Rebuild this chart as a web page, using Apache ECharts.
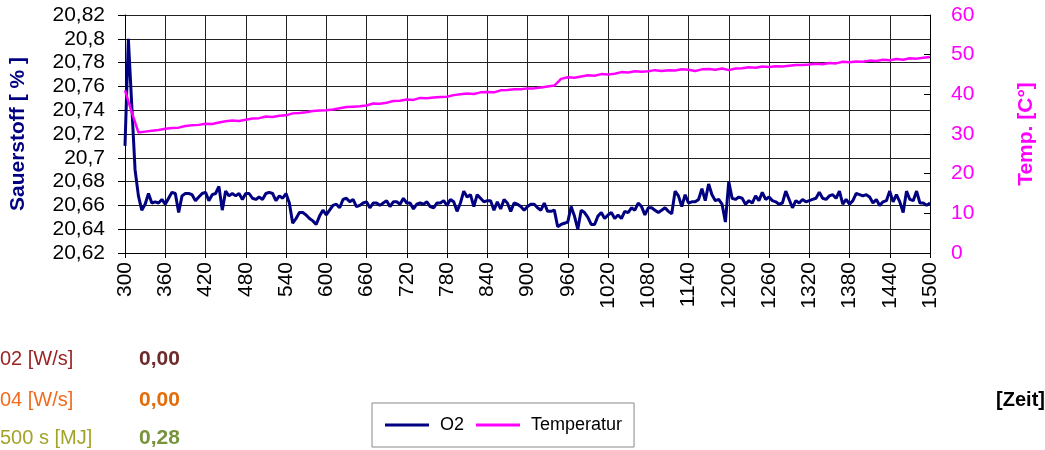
<!DOCTYPE html>
<html>
<head>
<meta charset="utf-8">
<script src="https://cdn.jsdelivr.net/npm/echarts@6/dist/echarts.min.js"></script>
<style>
  html, body { margin: 0; padding: 0; background: #fff; }
  #chart { width: 1045px; height: 450px; }
</style>
</head>
<body>
<div id="chart"></div>
<script>
// Zeitachse [s]
const timeMin = 300;
const timeMax = 1500;
const timeInterval = 60;

// Sauerstoff [%], alle 5 s ab 300 s
const o2Step = 5;
const o2Values = [
  20.71, 20.80, 20.745, 20.69, 20.668, 20.656, 20.661, 20.670, 20.662, 20.663,
  20.662, 20.665, 20.661, 20.666, 20.671, 20.670, 20.654, 20.668, 20.670, 20.670,
  20.669, 20.664, 20.667, 20.670, 20.671, 20.664, 20.669, 20.670, 20.676, 20.656,
  20.672, 20.668, 20.670, 20.668, 20.670, 20.665, 20.670, 20.670, 20.666, 20.665,
  20.667, 20.665, 20.670, 20.671, 20.670, 20.664, 20.668, 20.666, 20.670, 20.662,
  20.645, 20.649, 20.654, 20.654, 20.652, 20.649, 20.647, 20.644, 20.651, 20.656,
  20.652, 20.656, 20.660, 20.661, 20.658, 20.665, 20.666, 20.663, 20.665, 20.659,
  20.660, 20.662, 20.663, 20.658, 20.662, 20.662, 20.660, 20.662, 20.664, 20.659,
  20.663, 20.663, 20.661, 20.666, 20.662, 20.662, 20.657, 20.661, 20.662, 20.661,
  20.663, 20.659, 20.658, 20.662, 20.662, 20.664, 20.660, 20.665, 20.663, 20.655,
  20.662, 20.672, 20.667, 20.669, 20.659, 20.669, 20.666, 20.663, 20.664, 20.664,
  20.656, 20.663, 20.657, 20.665, 20.662, 20.655, 20.662, 20.661, 20.659, 20.656,
  20.659, 20.661, 20.661, 20.658, 20.656, 20.662, 20.655, 20.655, 20.656, 20.642,
  20.644, 20.645, 20.646, 20.659, 20.651, 20.640, 20.656, 20.654, 20.650, 20.644,
  20.644, 20.651, 20.654, 20.649, 20.652, 20.654, 20.649, 20.652, 20.649, 20.655,
  20.654, 20.658, 20.656, 20.662, 20.659, 20.652, 20.658, 20.658, 20.656, 20.654,
  20.656, 20.658, 20.655, 20.653, 20.672, 20.668, 20.659, 20.669, 20.662, 20.663,
  20.663, 20.665, 20.674, 20.664, 20.678, 20.669, 20.664, 20.665, 20.661, 20.646,
  20.680, 20.666, 20.665, 20.667, 20.666, 20.661, 20.664, 20.662, 20.668, 20.664,
  20.671, 20.665, 20.667, 20.664, 20.663, 20.661, 20.662, 20.672, 20.665, 20.658,
  20.664, 20.662, 20.665, 20.663, 20.664, 20.665, 20.666, 20.671, 20.666, 20.665,
  20.668, 20.669, 20.666, 20.672, 20.661, 20.665, 20.661, 20.664, 20.670, 20.669,
  20.668, 20.669, 20.667, 20.662, 20.665, 20.660, 20.663, 20.664, 20.672, 20.663,
  20.669, 20.663, 20.654, 20.672, 20.665, 20.664, 20.672, 20.662, 20.662, 20.660,
  20.662
];

// Temperatur [°C], alle 10 s ab 300 s
const tempStep = 10;
const tempValues = [
  41.0, 35.5, 30.4, 30.6, 30.8, 31.0, 31.3, 31.5, 31.6, 32.0,
  32.2, 32.3, 32.6, 32.5, 32.9, 33.2, 33.4, 33.3, 33.6, 33.9,
  34.0, 34.4, 34.3, 34.6, 34.7, 35.2, 35.3, 35.5, 35.8, 35.9,
  36.0, 36.2, 36.5, 36.8, 36.9, 37.0, 37.2, 37.7, 37.6, 37.9,
  38.3, 38.4, 38.7, 38.6, 39.1, 39.0, 39.2, 39.3, 39.4, 39.8,
  40.0, 40.2, 40.1, 40.5, 40.6, 40.5, 41.0, 41.1, 41.3, 41.3,
  41.5, 41.5, 41.7, 42.0, 42.2, 43.9, 44.3, 44.2, 44.5, 44.8,
  44.7, 45.1, 45.0, 45.2, 45.6, 45.5, 45.8, 45.7, 45.8, 46.1,
  45.9, 46.1, 46.0, 46.3, 46.2, 45.9, 46.3, 46.4, 46.2, 46.5,
  46.1, 46.5, 46.6, 46.8, 46.7, 47.0, 46.9, 47.1, 47.0, 47.2,
  47.4, 47.4, 47.5, 47.7, 47.6, 47.9, 47.8, 48.2, 48.1, 48.3,
  48.2, 48.5, 48.4, 48.7, 48.6, 48.9, 48.7, 49.1, 49.0, 49.2,
  49.4
];

// Kennwerte unten links
const infoLabels = ['02 [W/s]', '04 [W/s]', '500 s [MJ]'];
const infoValues = ['0,00', '0,00', '0,28'];
const infoLabelColors = ['#9b2323', '#f26b1d', '#a3a32a'];
const infoValueColors = ['#6e2b2b', '#e46c0a', '#77933c'];

const font = 'Liberation Sans, Arial, sans-serif';

const o2Data = o2Values.map((v, i) => [timeMin + i * o2Step, v]);
const tempData = tempValues.map((v, i) => [timeMin + i * tempStep, v]);

const graphics = [];
infoLabels.forEach((txt, i) => {
  const y = [359, 400, 438][i];
  graphics.push({
    type: 'text', x: 0, y: y,
    style: { text: txt, fill: infoLabelColors[i], font: '20px ' + font, verticalAlign: 'middle' }
  });
  graphics.push({
    type: 'text', x: 139, y: y,
    style: { text: infoValues[i], fill: infoValueColors[i], font: 'bold 21px ' + font, verticalAlign: 'middle' }
  });
});
graphics.push({
  type: 'text', x: 1045, y: 400,
  style: { text: '[Zeit]', fill: '#000', font: 'bold 20px ' + font, align: 'right', verticalAlign: 'middle' }
});

const chart = echarts.init(document.getElementById('chart'));
chart.setOption({
  animation: false,
  textStyle: { fontFamily: font },
  grid: { left: 121, right: 113, top: 15, bottom: 197 },
  legend: {
    data: ['O2', 'Temperatur'],
    left: 372, top: 403,
    padding: [13, 12, 13, 13],
    borderColor: '#888', borderWidth: 1,
    icon: 'rect',
    itemWidth: 44, itemHeight: 3, itemGap: 12,
    textStyle: { fontSize: 18, color: '#000', fontFamily: font, padding: [0, 0, 0, 6] }
  },
  xAxis: {
    type: 'value',
    min: timeMin, max: timeMax, interval: timeInterval,
    axisLine: { lineStyle: { color: '#000', width: 1 } },
    axisTick: { length: 5, lineStyle: { color: '#000' } },
    axisLabel: { rotate: 90, margin: 9, fontSize: 21, color: '#000', formatter: v => String(v) },
    splitLine: { show: true, lineStyle: { color: '#222', width: 1 } }
  },
  yAxis: [
    {
      type: 'value',
      min: 20.62, max: 20.82, interval: 0.02,
      name: 'Sauerstoff [ % ]',
      nameLocation: 'middle', nameGap: 96,
      nameTextStyle: { color: '#000080', fontWeight: 'bold', fontSize: 21 },
      axisLine: { show: true, lineStyle: { color: '#000' } },
      axisTick: { show: true, length: 7, lineStyle: { color: '#000' } },
      axisLabel: {
        fontSize: 21, color: '#000', margin: 20,
        formatter: v => v.toFixed(2).replace(/0+$/, '').replace(/\.$/, '').replace('.', ',')
      },
      splitLine: { show: true, lineStyle: { color: '#222', width: 1 } }
    },
    {
      type: 'value',
      min: 0, max: 60, interval: 10,
      position: 'right',
      name: 'Temp. [C°]',
      nameLocation: 'middle', nameGap: 86, nameRotate: 90,
      nameTextStyle: { color: '#ff00ff', fontWeight: 'bold', fontSize: 21 },
      axisLine: { show: true, lineStyle: { color: '#000' } },
      axisTick: { show: true, inside: true, length: 6, lineStyle: { color: '#000' } },
      axisLabel: { fontSize: 21, color: '#ff00ff', margin: 21 },
      splitLine: { show: false }
    }
  ],
  series: [
    {
      name: 'O2', type: 'line', yAxisIndex: 0,
      data: o2Data, symbol: 'none',
      lineStyle: { color: '#000080', width: 3 },
      itemStyle: { color: '#000080' }
    },
    {
      name: 'Temperatur', type: 'line', yAxisIndex: 1,
      data: tempData, symbol: 'none',
      lineStyle: { color: '#ff00ff', width: 2.5 },
      itemStyle: { color: '#ff00ff' }
    }
  ],
  graphic: graphics
});
</script>
</body>
</html>
